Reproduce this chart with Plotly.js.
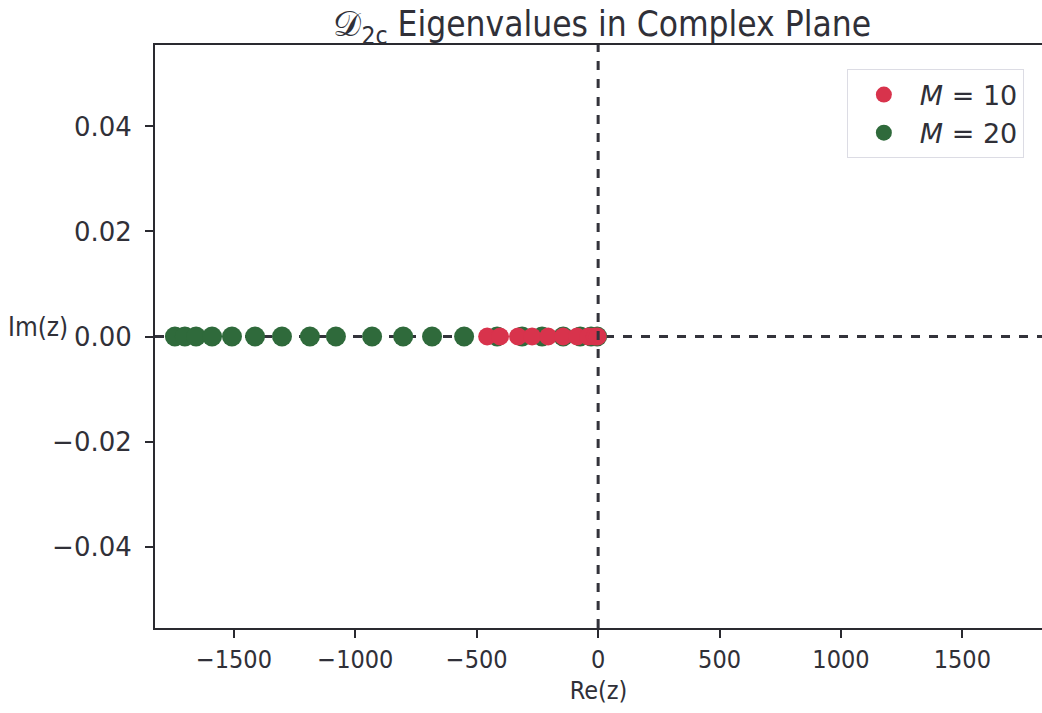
<!DOCTYPE html>
<html>
<head>
<meta charset="utf-8">
<script src="https://cdn.plot.ly/plotly-3.0.1.min.js"></script>
<style>html,body{margin:0;padding:0;background:#fff;}#chart{width:1042px;height:713px;}</style>
</head>
<body>
<div id="chart"></div>
<script>
const seriesNames = ["<i>M</i> = 10", "<i>M</i> = 20"];
const reM10 = [-457, -404, -330, -272, -206, -144, -87, -41, -14, -2];
const imM10 = [0, 0, 0, 0, 0, 0, 0, 0, 0, 0];
const reM20 = [-1743, -1702, -1656, -1590, -1508, -1413, -1302, -1187, -1080, -931,
               -803, -684, -552, -416, -313, -231, -144, -74, -29, -4];
const imM20 = [0, 0, 0, 0, 0, 0, 0, 0, 0, 0, 0, 0, 0, 0, 0, 0, 0, 0, 0, 0];
const xTickVals = [-1500, -1000, -500, 0, 500, 1000, 1500];
const xTickText = ["\u22121500", "\u22121000", "\u2212500", "0", "500", "1000", "1500"];
const yTickVals = [0.04, 0.02, 0.00, -0.02, -0.04];
const yTickText = ["0.04", "0.02", "0.00", "\u22120.02", "\u22120.04"];

const FONT = "DejaVu Sans, sans-serif";
const FONTC = "DejaVu Sans Condensed, DejaVu Sans, sans-serif";
const TXT = "#303038";

const traces = [
  {x: reM20, y: imM20, type: "scatter", mode: "markers", name: seriesNames[1],
   marker: {color: "#2f6a3b", size: 20, line: {width: 0}}},
  {x: reM10, y: imM10, type: "scatter", mode: "markers", name: seriesNames[0],
   marker: {color: "#d8334c", size: 18, line: {width: 0}}}
];

const layout = {
  width: 1042, height: 713,
  margin: {l: 155, r: 0, t: 45, b: 85},
  paper_bgcolor: "#ffffff", plot_bgcolor: "#ffffff",
  font: {family: FONT, color: TXT, size: 22},
  title: {text: "𝒟<sub>2c</sub> Eigenvalues in Complex Plane", x: 0.578, xanchor: "center",
          y: 0.966, yanchor: "middle", font: {family: FONTC, size: 35, color: TXT}},
  showlegend: true,
  legend: {x: 0.78, y: 0.958, xanchor: "left", yanchor: "top", traceorder: "reversed",
           bgcolor: "rgba(255,255,255,0.9)", bordercolor: "#dcdce4", borderwidth: 1,
           itemwidth: 62,
           font: {family: FONT, size: 27, color: TXT}, itemsizing: "trace"},
  xaxis: {range: [-1825, 1828], tickvals: xTickVals, ticktext: xTickText,
          showgrid: false, zeroline: false, showline: true, mirror: true,
          linecolor: "#2a2a30", linewidth: 2, ticks: "outside", ticklen: 8, tickwidth: 2,
          tickcolor: "#2a2a30", tickfont: {family: FONTC, size: 25, color: TXT},
          title: {text: "Re(z)", font: {family: FONTC, size: 25, color: TXT}, standoff: 8}},
  yaxis: {range: [-0.0555, 0.0555], tickvals: yTickVals, ticktext: yTickText,
          showgrid: false, zeroline: false, showline: true, mirror: true,
          linecolor: "#2a2a30", linewidth: 2, ticks: "outside", ticklen: 8, tickwidth: 2,
          ticklabelstandoff: 8,
          tickcolor: "#2a2a30", tickfont: {family: FONT, size: 26, color: TXT}},
  shapes: [
    {type: "line", xref: "paper", x0: 0, x1: 1, yref: "y", y0: 0, y1: 0, layer: "below",
     line: {color: "#33333b", width: 3, dash: "dash"}},
    {type: "line", xref: "x", x0: 0, x1: 0, yref: "paper", y0: 0, y1: 1, layer: "above",
     line: {color: "#33333b", width: 3, dash: "dash"}}
  ],
  annotations: [
    {text: "Im(z)", xref: "paper", yref: "y", x: -0.096, y: 0.0018, xanchor: "right", yanchor: "middle",
     showarrow: false, font: {family: FONTC, size: 26, color: TXT}}
  ]
};

Plotly.newPlot("chart", traces, layout, {displayModeBar: false, staticPlot: true});
</script>
</body>
</html>
